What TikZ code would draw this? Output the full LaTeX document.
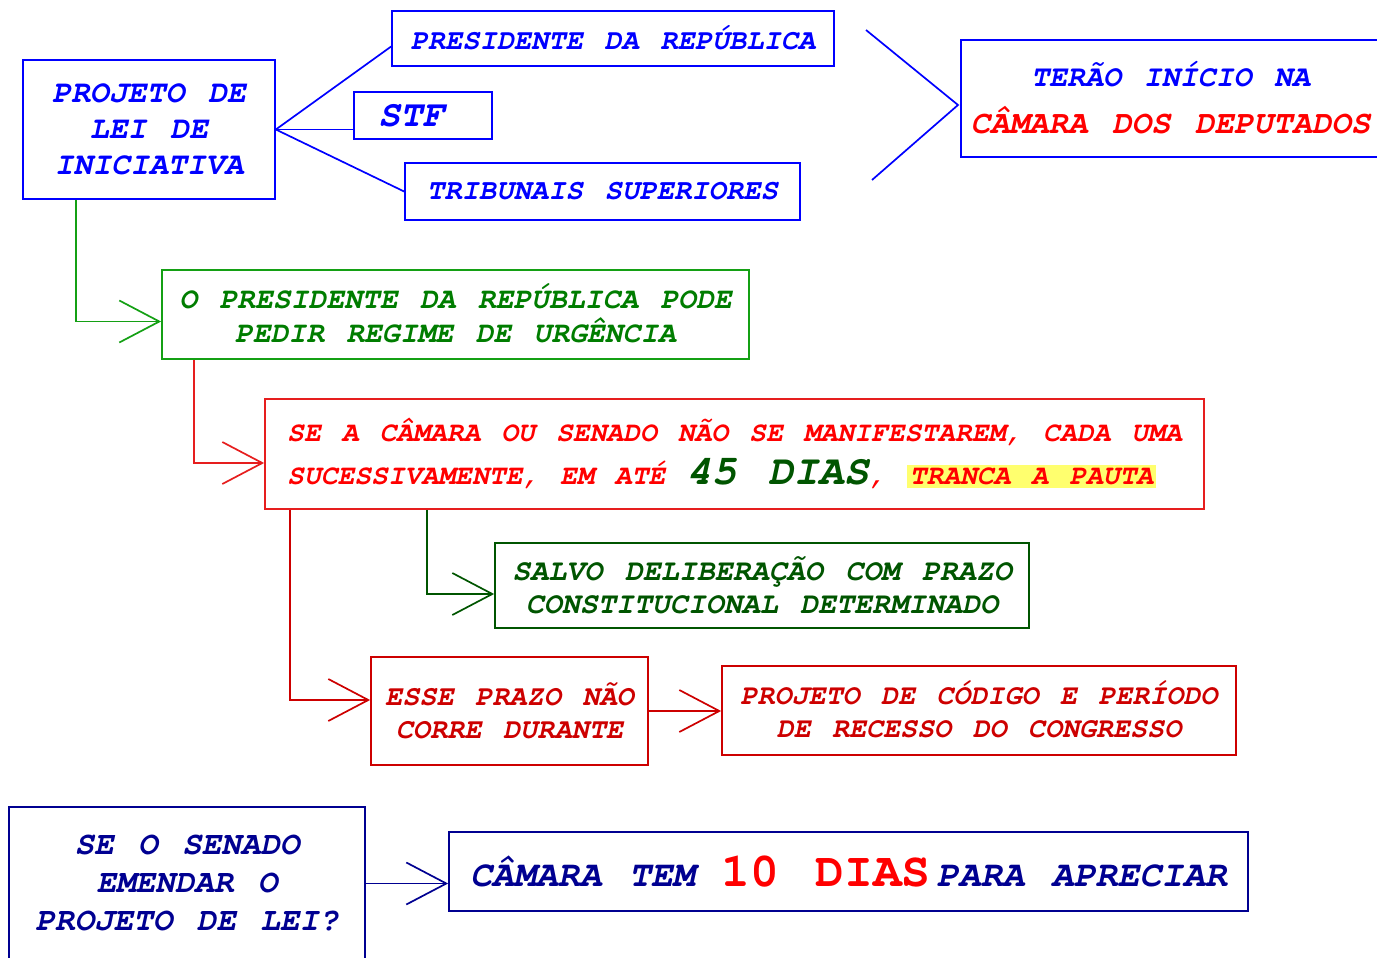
\documentclass[tikz,border=0pt]{standalone}
\usepackage[T1]{fontenc}
\usetikzlibrary{arrows.meta}

\definecolor{pblue}{RGB}{0,0,255}
\definecolor{pgreen}{RGB}{20,160,20}
\definecolor{ugreen}{RGB}{0,125,0}
\definecolor{dgreen}{RGB}{0,85,0}
\definecolor{pred}{RGB}{255,0,0}
\definecolor{sred}{RGB}{230,30,30}
\definecolor{dred}{RGB}{205,0,0}
\definecolor{pnavy}{RGB}{0,0,145}
\definecolor{hlyellow}{RGB}{255,255,110}

\newcommand\cfont[2]{\fontencoding{T1}\fontfamily{pcr}\fontseries{b}\fontshape{sl}\fontsize{#1}{#2}\selectfont\spaceskip=0.75em\relax}
\newcommand\csize[2]{\fontsize{#1}{#2}\selectfont\spaceskip=0.75em\relax}
\setlength{\fboxsep}{3pt}

\begin{document}
\begin{tikzpicture}[
  x=1pt, y=-1pt,
  pbox/.style={draw, line width=1.7pt, inner sep=0pt, align=center},
  link/.style={-{Straight Barb[length=40pt,width=42pt]}, line width=1.7pt},
]
\useasboundingbox (0,0) rectangle (1377,958);

% iniciativa
\node[pbox, pblue, minimum width=252pt, minimum height=139pt, font={\cfont{31.5}{36}}] (plei) at (149,129.5) {PROJETO DE\\LEI DE\\INICIATIVA};
\node[pbox, pblue, minimum width=442pt, minimum height=55pt, font={\cfont{28.7}{30}}] (pres) at (613,38.5) {PRESIDENTE DA REPÚBLICA};
\node[pbox, pblue, minimum width=138pt, minimum height=47pt, text width=90pt, align=left, font={\cfont{37}{40}}] (stf) at (423,115.5) {STF};
\node[pbox, pblue, minimum width=395pt, minimum height=57pt, font={\cfont{28.9}{30}}] (trib) at (602.5,191.5) {TRIBUNAIS SUPERIORES};
\node[pbox, pblue, minimum width=419pt, minimum height=117pt, font={\cfont{30}{47}}] (camdep) at (1170.5,98.5) {TERÃO INÍCIO NA\\{\color{pred}\csize{32.5}{47}CÂMARA DOS DEPUTADOS}};

\draw[pblue, line width=1.7pt] ([yshift=-8pt]pres.west) -- (plei.east) -- (trib.west);
\draw[pblue, line width=1.7pt] (plei.east) -- (plei.east -| stf.west);

\coordinate (chA) at (866,30);
\coordinate (chB) at (958,105);
\coordinate (chC) at (872,180);
\draw[pblue, line width=1.7pt] (chA) -- (chB) -- (chC);

% urgencia
\node[pbox, pgreen, text=ugreen, minimum width=587pt, minimum height=89pt, font={\cfont{29.7}{34}}] (urg) at (455.5,314.5) {O PRESIDENTE DA REPÚBLICA PODE\\PEDIR REGIME DE URGÊNCIA};
\draw[link, pgreen] ([xshift=-73pt]plei.south) |- ([yshift=-7pt]urg.west);

\node[pbox, sred, text=pred, minimum width=939pt, minimum height=110pt, align=left, font={\cfont{28}{43}}] (tranca) at (734.5,454) {SE A CÂMARA OU SENADO NÃO SE MANIFESTAREM, CADA UMA\\SUCESSIVAMENTE, EM ATÉ {\color{dgreen}\csize{42}{43}45 DIAS}, \colorbox{hlyellow}{TRANCA A PAUTA}};
\draw[link, sred] ([xshift=-261.5pt]urg.south) |- ([yshift=-9pt]tranca.west);

\node[pbox, dgreen, minimum width=534pt, minimum height=85pt, font={\cfont{30}{33}}] (salvo) at (762,585.5) {SALVO DELIBERAÇÃO COM PRAZO\\CONSTITUCIONAL DETERMINADO};
\draw[link, dgreen] ([xshift=-307.5pt]tranca.south) |- ([yshift=-8.5pt]salvo.west);

% prazo
\node[pbox, dred, minimum width=277pt, minimum height=108pt, font={\cfont{28.6}{33}}] (esse) at (509.5,711) {ESSE PRAZO NÃO\\CORRE DURANTE};
\draw[link, dred] ([xshift=-444.5pt]tranca.south) |- ([yshift=11pt]esse.west);

\node[pbox, dred, minimum width=514pt, minimum height=89pt, font={\cfont{28.4}{33}}] (recesso) at (979,710.5) {PROJETO DE CÓDIGO E PERÍODO\\DE RECESSO DO CONGRESSO};
\draw[link, dred] (esse.east) -- (esse.east -| recesso.west);

% emenda do senado
\node[pbox, pnavy, minimum width=356pt, minimum height=153pt, font={\cfont{32.6}{38}}] (emenda) at (187,883.5) {SE O SENADO\\EMENDAR O\\PROJETO DE LEI?};
\node[pbox, pnavy, minimum width=799pt, minimum height=79pt, font={\cfont{36.5}{40}}] (dezdias) at (848.5,871.5) {CÂMARA TEM {\color{pred}\upshape\csize{48}{40}10 DIAS}\hspace{6pt}PARA APRECIAR};
\draw[link, pnavy] (emenda.east) -- (emenda.east -| dezdias.west);

\end{tikzpicture}
\end{document}
